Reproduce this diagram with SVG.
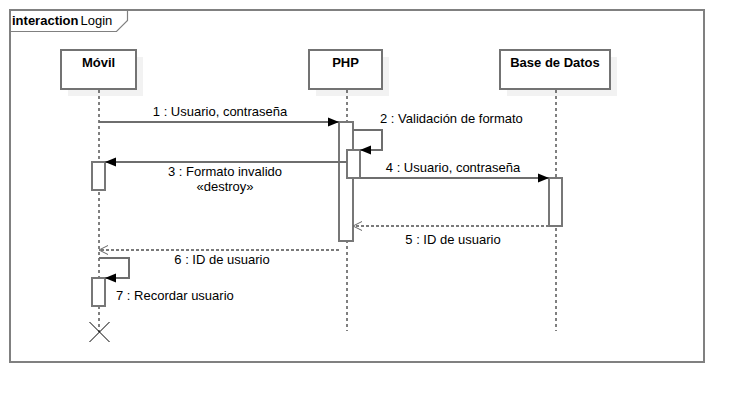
<svg xmlns="http://www.w3.org/2000/svg" width="744" height="402" viewBox="0 0 744 402">
<defs>
<style>
text{font-family:"Liberation Sans",Arial,sans-serif;font-size:13px;fill:#000}
.b{font-weight:bold}
.box{fill:#fff;stroke:#737373;stroke-width:2}
.sh{fill:#f2f2f2}
.life{stroke:#000;stroke-width:1;stroke-dasharray:3,3;fill:none}
.bar{fill:#fff;stroke:#777;stroke-width:2}
.msg{stroke:#6e6e6e;stroke-width:2;fill:none}
.ret{stroke:#7a7a7a;stroke-width:2;stroke-dasharray:3,2;fill:none}
</style>
<marker id="fa" markerUnits="userSpaceOnUse" markerWidth="12" markerHeight="10" refX="11" refY="5" orient="auto">
<path d="M0,0.5 L11,5 L0,9.5 z" fill="#000"/>
</marker>
<marker id="oa" markerUnits="userSpaceOnUse" markerWidth="12" markerHeight="12" refX="10" refY="6" orient="auto">
<path d="M1,1.5 L10,6 L1,10.5" fill="none" stroke="#666" stroke-width="1"/>
</marker>
</defs>
<rect width="744" height="402" fill="#fff"/>
<g id="frame">
<rect x="10" y="10" width="694" height="352" fill="none" stroke="#808080" stroke-width="2"/>
<path d="M10,31.5 L116.5,31.5 L127.5,20.5 L127.5,10" fill="none" stroke="#808080" stroke-width="1.2"/>
<text x="12" y="25" class="b">interaction</text>
<text x="80.5" y="25">Login</text>
</g>
<g id="movil">
<rect class="sh" x="68" y="57" width="75" height="39"/>
<rect class="box" x="61" y="50" width="75" height="39"/>
<text x="98.5" y="67" class="b" text-anchor="middle">Móvil</text>
<line class="life" x1="99" y1="90" x2="99" y2="332"/>
</g>
<g id="php">
<rect class="sh" x="316" y="57" width="73" height="39"/>
<rect class="box" x="309" y="50" width="73" height="39"/>
<text x="345.5" y="67" class="b" text-anchor="middle">PHP</text>
<line class="life" x1="347" y1="90" x2="347" y2="331"/>
</g>
<g id="basedatos">
<rect class="sh" x="507" y="57" width="110" height="39"/>
<rect class="box" x="500" y="50" width="110" height="39"/>
<text x="555" y="67" class="b" text-anchor="middle">Base de Datos</text>
<line class="life" x1="556" y1="90" x2="556" y2="331"/>
</g>
<g id="activations">
<rect class="bar" x="339" y="122" width="14" height="119"/>
<rect class="bar" x="347" y="150" width="13" height="28"/>
<rect class="bar" x="92" y="162" width="13" height="28"/>
<rect class="bar" x="549" y="178" width="13" height="48"/>
<rect class="bar" x="92" y="278" width="13" height="28"/>
</g>
<g id="destroy">
<path d="M89.5,322 L109.5,342 M109.5,322 L89.5,342" stroke="#000" stroke-width="1"/>
</g>
<g id="connectors">
<line class="msg" x1="99" y1="122" x2="339" y2="122" marker-end="url(#fa)"/>
<text x="220" y="116" text-anchor="middle">1 : Usuario, contraseña</text>
<polyline class="msg" points="353,130 382,130 382,150 360,150" marker-end="url(#fa)"/>
<text x="380" y="123">2 : Validación de formato</text>
<line class="msg" x1="347" y1="162" x2="105" y2="162" marker-end="url(#fa)"/>
<text x="225" y="176" text-anchor="middle">3 : Formato invalido</text>
<text x="225" y="191" text-anchor="middle">«destroy»</text>
<line class="msg" x1="360" y1="178" x2="549" y2="178" marker-end="url(#fa)"/>
<text x="453" y="172" text-anchor="middle">4 : Usuario, contraseña</text>
<line class="ret" x1="549" y1="226" x2="353" y2="226" marker-end="url(#oa)"/>
<text x="453" y="244" text-anchor="middle">5 : ID de usuario</text>
<line class="ret" x1="339" y1="250" x2="99" y2="250" marker-end="url(#oa)"/>
<text x="222" y="264" text-anchor="middle">6 : ID de usuario</text>
<polyline class="msg" points="99,258 129,258 129,278 105,278" marker-end="url(#fa)"/>
<text x="116" y="300">7 : Recordar usuario</text>
</g>
</svg>
